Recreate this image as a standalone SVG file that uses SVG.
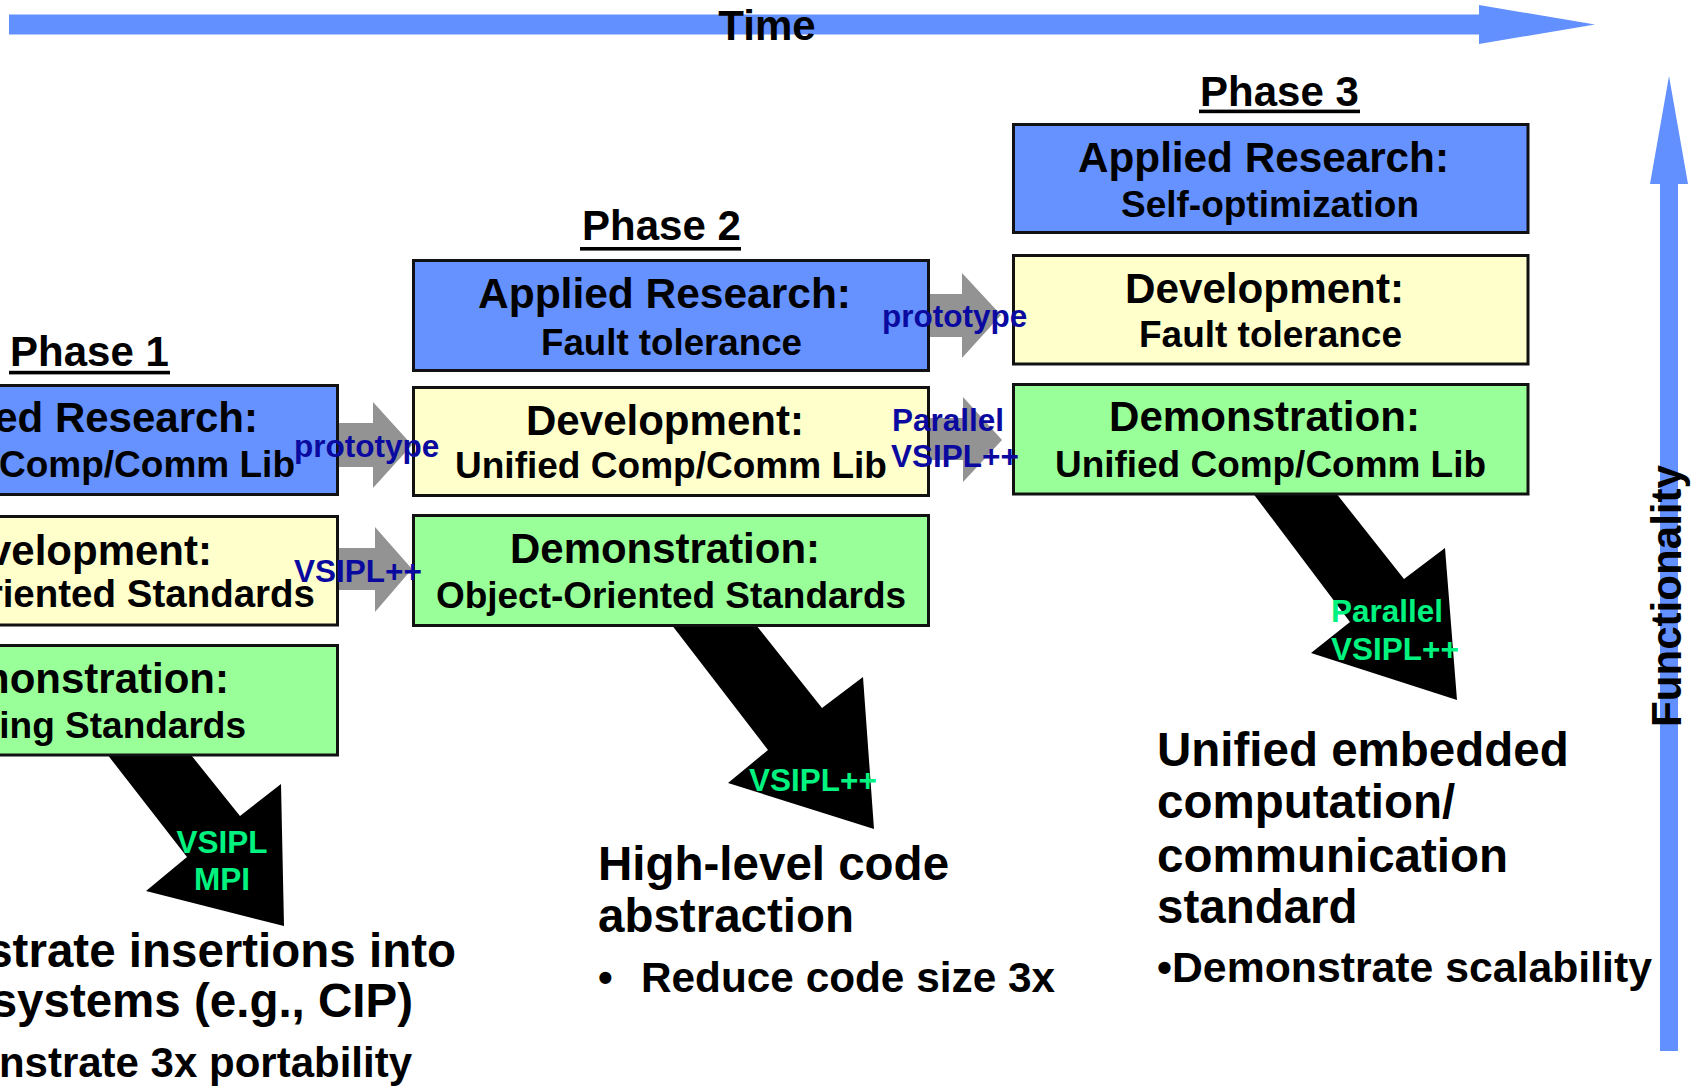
<svg xmlns="http://www.w3.org/2000/svg" width="1695" height="1086" viewBox="0 0 1695 1086">
<style>
text{font-family:"Liberation Sans",Arial,sans-serif;font-weight:bold;}
.box{stroke:#111;stroke-width:3;}
.ar{fill:#6592FF;}
.dev{fill:#FFFFCC;}
.demo{fill:#99FF99;}
.h{font-size:42px;fill:#000;}
.s{font-size:36px;fill:#000;}
.lbl{font-size:31.5px;fill:#0A0AA0;}
.glbl{font-size:31.5px;fill:#00F27F;}
.big{font-size:47.5px;fill:#000;}
.mid{font-size:42px;fill:#000;}
.gray{fill:#939393;}
.axis{fill:#6390FF;}
</style>
<g id="axes">
<polygon class="axis" points="9,14.5 1479,14.5 1479,5 1595,24.5 1479,44 1479,34.5 9,34.5"/>
<text class="h" x="767" y="40" text-anchor="middle">Time</text>
<polygon class="axis" points="1660,1051 1660,184 1650,184 1669,76 1688,184 1678,184 1678,1051"/>
<text class="h" transform="translate(1681,727) rotate(-90)" x="0" y="0" textLength="262" lengthAdjust="spacingAndGlyphs">Functionality</text>
</g>
<g id="connectors">
<polygon class="gray" points="337,423 373,423 373,402 412,445 373,488 373,467 337,467"/>
<polygon class="gray" points="337,548 375,548 375,527 412,569 375,612 375,590 337,590"/>
<polygon class="gray" points="928,294 962,294 962,273 1001,315 962,358 962,337 928,337"/>
<polygon class="gray" points="928,418 963,418 963,397 1002,440 963,482 963,460 928,460"/>
<polygon fill="#000" points="100,745 183,745 240,816 281,784 284,926 146,891 187,857"/>
<polygon fill="#000" points="668,620 752,620 822,708 863,677 874,829 728,783 768,750"/>
<polygon fill="#000" points="1249,488 1332,488 1404,579 1445,548 1457,700 1311,653 1350,622"/>
</g>
<g id="phase1">
<text class="h" x="10" y="366">Phase 1</text>
<rect x="9" y="370.8" width="161" height="3.6" fill="#000"/>
</g>
<g id="phase2">
<text class="h" x="582" y="240">Phase 2</text>
<rect x="580" y="247" width="161" height="3.6" fill="#000"/>
</g>
<g id="phase3">
<text class="h" x="1200" y="106">Phase 3</text>
<rect x="1199" y="109.6" width="161" height="3.6" fill="#000"/>
</g>
<g id="p1-applied-research">
<rect class="box ar" x="-20" y="385.5" width="357.5" height="109"/>
<text class="h" x="258" y="432" text-anchor="end">ed Research:</text>
<text class="s" x="295" y="477" text-anchor="end" style="font-size:37px">Comp/Comm Lib</text>
</g>
<g id="p1-development">
<rect class="box dev" x="-20" y="516.5" width="357.5" height="108.5"/>
<text class="h" x="212" y="565" text-anchor="end">velopment:</text>
<text class="s" x="315" y="607" text-anchor="end" style="font-size:38.5px">riented Standards</text>
</g>
<g id="p1-demonstration">
<rect class="box demo" x="-20" y="645.5" width="357.5" height="109.5"/>
<text class="h" x="229" y="693" text-anchor="end">monstration:</text>
<text class="s" x="246" y="738" text-anchor="end" style="font-size:37px">ing Standards</text>
</g>
<g id="p2-applied-research">
<rect class="box ar" x="413.5" y="260.5" width="515" height="110"/>
<text class="h" x="478" y="308" textLength="373" lengthAdjust="spacingAndGlyphs">Applied Research:</text>
<text class="s" x="541" y="355" textLength="261" lengthAdjust="spacingAndGlyphs">Fault tolerance</text>
</g>
<g id="p2-development">
<rect class="box dev" x="413.5" y="387.5" width="515" height="108"/>
<text class="h" x="526" y="435" textLength="278" lengthAdjust="spacingAndGlyphs">Development:</text>
<text class="s" x="455" y="478" textLength="432" lengthAdjust="spacingAndGlyphs">Unified Comp/Comm Lib</text>
</g>
<g id="p2-demonstration">
<rect class="box demo" x="413.5" y="515.5" width="515" height="110"/>
<text class="h" x="510" y="563" textLength="310" lengthAdjust="spacingAndGlyphs">Demonstration:</text>
<text class="s" x="436" y="608" textLength="470" lengthAdjust="spacingAndGlyphs">Object-Oriented Standards</text>
</g>
<g id="p3-applied-research">
<rect class="box ar" x="1013.5" y="124.5" width="514.5" height="108"/>
<text class="h" x="1078" y="172" textLength="371" lengthAdjust="spacingAndGlyphs">Applied Research:</text>
<text class="s" x="1121" y="217" textLength="298" lengthAdjust="spacingAndGlyphs">Self-optimization</text>
</g>
<g id="p3-development">
<rect class="box dev" x="1013.5" y="255.5" width="514.5" height="108.5"/>
<text class="h" x="1125" y="303" textLength="279" lengthAdjust="spacingAndGlyphs">Development:</text>
<text class="s" x="1139" y="347" textLength="263" lengthAdjust="spacingAndGlyphs">Fault tolerance</text>
</g>
<g id="p3-demonstration">
<rect class="box demo" x="1013.5" y="384.5" width="514.5" height="109.5"/>
<text class="h" x="1109" y="431" textLength="311" lengthAdjust="spacingAndGlyphs">Demonstration:</text>
<text class="s" x="1055" y="477" textLength="431" lengthAdjust="spacingAndGlyphs">Unified Comp/Comm Lib</text>
</g>
<g id="connector-labels">
<text class="lbl" x="294" y="457">prototype</text>
<text class="lbl" x="294" y="582">VSIPL++</text>
<text class="lbl" x="882" y="327">prototype</text>
<text class="lbl" x="892" y="431">Parallel</text>
<text class="lbl" x="891" y="467">VSIPL++</text>
<text class="glbl" x="222" y="853" text-anchor="middle">VSIPL</text>
<text class="glbl" x="222" y="890" text-anchor="middle">MPI</text>
<text class="glbl" x="749" y="791">VSIPL++</text>
<text class="glbl" x="1331" y="622">Parallel</text>
<text class="glbl" x="1331" y="660">VSIPL++</text>
</g>
<g id="outcome1">
<text class="big" x="456" y="967" text-anchor="end">strate insertions into</text>
<text class="big" x="413" y="1017" text-anchor="end">systems (e.g., CIP)</text>
<text class="mid" x="412" y="1077" text-anchor="end">nstrate 3x portability</text>
</g>
<g id="outcome2">
<text class="big" x="598" y="880">High-level code</text>
<text class="big" x="598" y="932">abstraction</text>
<text class="mid" x="598" y="992">•</text>
<text class="mid" x="641" y="992" textLength="414" lengthAdjust="spacingAndGlyphs">Reduce code size 3x</text>
</g>
<g id="outcome3">
<text class="big" x="1157" y="766">Unified embedded</text>
<text class="big" x="1157" y="818">computation/</text>
<text class="big" x="1157" y="872">communication</text>
<text class="big" x="1157" y="923">standard</text>
<text class="mid" x="1157" y="982" textLength="495" lengthAdjust="spacingAndGlyphs">•Demonstrate scalability</text>
</g>
</svg>
